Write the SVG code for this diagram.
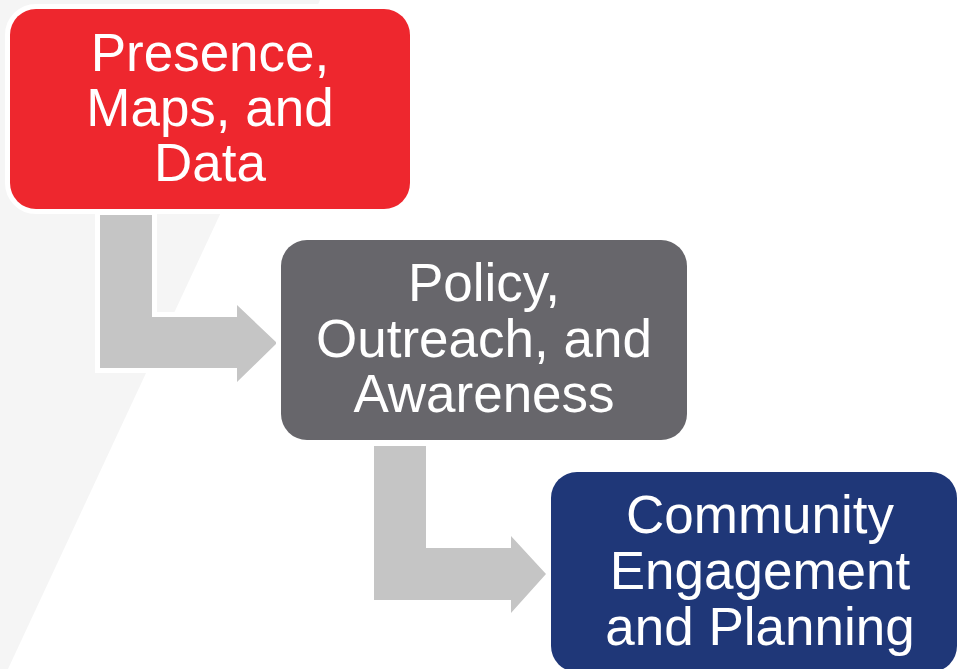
<svg xmlns="http://www.w3.org/2000/svg" width="959" height="669" viewBox="0 0 959 669">
<style>
.lbl{font-family:"Liberation Sans",Arial,sans-serif;font-size:53px;fill:#ffffff;text-anchor:middle}
.arrow{fill:#c5c5c5;stroke:#ffffff;stroke-width:10;paint-order:stroke;stroke-linejoin:miter}
.box{stroke:#ffffff;stroke-width:10;paint-order:stroke}
</style>
<rect x="0" y="0" width="959" height="669" fill="#ffffff"/>
<polygon points="0,0 320,0 8,669 0,669" fill="#f5f5f5"/>
<g id="connectors">
<polygon class="arrow" points="100,215 152,215 152,317 237,317 237,305 277,343 237,382 237,368 100,368"/>
<polygon class="arrow" points="374,446 426,446 426,548 511,548 511,536 546,574 511,613 511,600 374,600"/>
</g>
<g id="node-presence">
<rect class="box" x="10" y="9" width="400" height="200" rx="26" fill="#ee272e"/>
<text class="lbl" x="210" y="71">Presence,</text>
<text class="lbl" x="210" y="126">Maps, and</text>
<text class="lbl" x="210" y="181">Data</text>
</g>
<g id="node-policy">
<rect class="box" x="281" y="240" width="406" height="200" rx="26" fill="#67666b"/>
<text class="lbl" x="484" y="301">Policy,</text>
<text class="lbl" x="484" y="357">Outreach, and</text>
<text class="lbl" x="484" y="412">Awareness</text>
</g>
<g id="node-community">
<rect class="box" x="551" y="472" width="406" height="200" rx="26" fill="#1f3778"/>
<text class="lbl" x="760" y="533">Community</text>
<text class="lbl" x="760" y="589">Engagement</text>
<text class="lbl" x="760" y="645">and Planning</text>
</g>
</svg>
